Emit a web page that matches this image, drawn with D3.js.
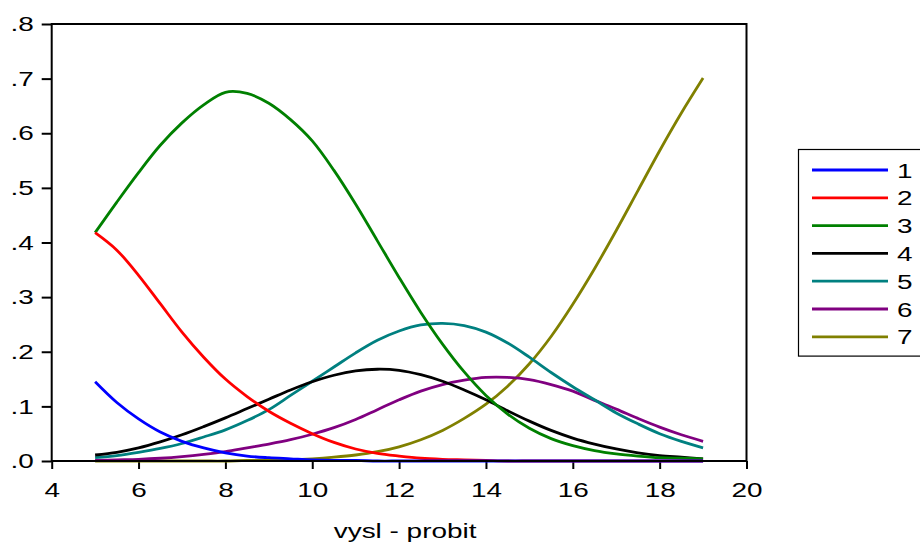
<!DOCTYPE html>
<html>
<head>
<meta charset="utf-8">
<script src="https://cdn.jsdelivr.net/npm/d3@7"></script>
<style>
	body { margin: 0; background: #fff; }
	text { font-family: "Liberation Sans", Arial, sans-serif; font-size: 21px; fill: #000; }
</style>
</head>
<body>
<svg id="graph" width="920" height="544"></svg>
<script>
// x values (vysl), every half unit
var xVals = [5, 5.5, 6, 6.5, 7, 7.5, 8, 8.5, 9, 9.5, 10, 10.5, 11, 11.5, 12,
	12.5, 13, 13.5, 14, 14.5, 15, 15.5, 16, 16.5, 17, 17.5, 18, 18.5, 19];

var s1 = [0.145, 0.107, 0.077, 0.053, 0.036, 0.024, 0.015, 0.009, 0.006, 0.004, 0.002, 0.001, 0.001, 0, 0,
	0, 0, 0, 0, 0, 0, 0, 0, 0, 0, 0, 0, 0, 0];
var s2 = [0.418, 0.386, 0.340, 0.288, 0.236, 0.190, 0.150, 0.118, 0.091, 0.069, 0.050, 0.034, 0.022, 0.014, 0.009,
	0.005, 0.003, 0.002, 0.001, 0, 0, 0, 0, 0, 0, 0, 0, 0, 0];
var s3 = [0.418, 0.474, 0.528, 0.578, 0.619, 0.652, 0.675, 0.673, 0.655, 0.625, 0.586, 0.532, 0.470, 0.403, 0.336,
	0.272, 0.214, 0.163, 0.120, 0.086, 0.060, 0.041, 0.028, 0.019, 0.013, 0.009, 0.006, 0.005, 0.004];
var s4 = [0.011, 0.016, 0.024, 0.035, 0.048, 0.063, 0.079, 0.096, 0.113, 0.130, 0.145, 0.157, 0.165, 0.168, 0.166,
	0.158, 0.146, 0.130, 0.112, 0.092, 0.073, 0.056, 0.042, 0.031, 0.022, 0.015, 0.010, 0.007, 0.004];
var s5 = [0.006, 0.010, 0.016, 0.023, 0.032, 0.044, 0.057, 0.074, 0.094, 0.120, 0.146, 0.172, 0.198, 0.221, 0.238,
	0.249, 0.252, 0.248, 0.236, 0.216, 0.190, 0.162, 0.136, 0.112, 0.088, 0.068, 0.050, 0.036, 0.024];
var s6 = [0.001, 0.002, 0.003, 0.005, 0.008, 0.012, 0.017, 0.024, 0.031, 0.039, 0.049, 0.061, 0.076, 0.094, 0.112,
	0.128, 0.140, 0.148, 0.153, 0.153, 0.149, 0.140, 0.128, 0.111, 0.095, 0.078, 0.062, 0.048, 0.036];
var s7 = [0, 0, 0, 0, 0, 0, 0, 0.001, 0.001, 0.002, 0.004, 0.007, 0.011, 0.017, 0.026,
	0.039, 0.056, 0.078, 0.104, 0.137, 0.178, 0.228, 0.287, 0.352, 0.422, 0.495, 0.568, 0.637, 0.701];

var seriesNames = ["1", "2", "3", "4", "5", "6", "7"];
var seriesValues = [s1, s2, s3, s4, s5, s6, s7];
var seriesColors = ["#0000ff", "#ff0000", "#008000", "#000000", "#008080", "#800080", "#808000"];

var xTicks = [4, 6, 8, 10, 12, 14, 16, 18, 20];
var yTicks = [0, 0.1, 0.2, 0.3, 0.4, 0.5, 0.6, 0.7, 0.8];
var xTitle = "vysl - probit";

var stretch = 1.33; // the picture's text is wider than tall

var pLeft = 51.7, pRight = 746.5, pTop = 24, pBottom = 461;
var graph = d3.select("#graph");

var x = d3.scaleLinear().domain([4, 20]).range([pLeft, pRight]),
	y = d3.scaleLinear().domain([0, 0.8]).range([pBottom, pTop]);

//axes
var xAxis = d3.axisBottom(x).tickValues(xTicks).tickSize(8).tickSizeOuter(0).tickFormat(d3.format("d")),
	yAxis = d3.axisLeft(y).tickValues(yTicks).tickSize(10).tickSizeOuter(0)
		.tickFormat(function(d) { return d3.format(".1f")(d).replace(/^0/, ""); });

var gx = graph.append("g")
	.attr("transform", "translate(0," + pBottom + ")")
	.call(xAxis);
gx.selectAll("text")
	.attr("y", 36)
	.attr("dy", "0")
	.attr("x", 0)
	.attr("transform", "scale(" + stretch + ",1)");

var gy = graph.append("g")
	.attr("transform", "translate(" + pLeft + ",0)")
	.call(yAxis);
gy.selectAll("text")
	.attr("x", -18 / stretch)
	.attr("transform", "scale(" + stretch + ",1)");

graph.selectAll(".domain").remove();
graph.selectAll(".tick line").attr("stroke", "#000").attr("stroke-width", 2);
graph.selectAll(".tick text").attr("fill", "#000").style("font-size", "21px")
	.style("font-family", "'Liberation Sans', Arial, sans-serif");

// lines, last series drawn first
var lineFunc = d3.line()
	.x(function(d) { return x(d[0]); })
	.y(function(d) { return y(d[1]); })
	.curve(d3.curveCatmullRom.alpha(0.5));

for (var i = seriesValues.length - 1; i >= 0; i--) {
	var pts = xVals.map(function(v, j) { return [v, seriesValues[i][j]]; });
	graph.append("path")
		.datum(pts)
		.attr("fill", "none")
		.attr("stroke", seriesColors[i])
		.attr("stroke-width", 2.8)
		.attr("stroke-linejoin", "round")
		.attr("d", lineFunc);
}

// frame
graph.append("rect")
	.attr("x", pLeft).attr("y", pTop)
	.attr("width", pRight - pLeft).attr("height", pBottom - pTop)
	.attr("fill", "none").attr("stroke", "#000").attr("stroke-width", 2);

graph.append("text")
	.attr("transform", "translate(" + ((pLeft + pRight) / 2 + 6) + ",538) scale(" + stretch + ",1)")
	.attr("text-anchor", "middle")
	.text(xTitle);

// legend
var lg = graph.append("g");
var rowH = 27.8, row0 = 170;
lg.append("rect")
	.attr("x", 798.5).attr("y", 149.5)
	.attr("width", 140).attr("height", rowH * seriesNames.length + 12)
	.attr("fill", "#fff").attr("stroke", "#000").attr("stroke-width", 1.2);

seriesNames.forEach(function(name, i) {
	var yy = row0 + i * rowH;
	lg.append("line")
		.attr("x1", 812).attr("x2", 888)
		.attr("y1", yy).attr("y2", yy)
		.attr("stroke", seriesColors[i])
		.attr("stroke-width", 2.8);
	lg.append("text")
		.attr("transform", "translate(897," + (yy + 7.5) + ") scale(" + stretch + ",1)")
		.text(name);
});
</script>
</body>
</html>
